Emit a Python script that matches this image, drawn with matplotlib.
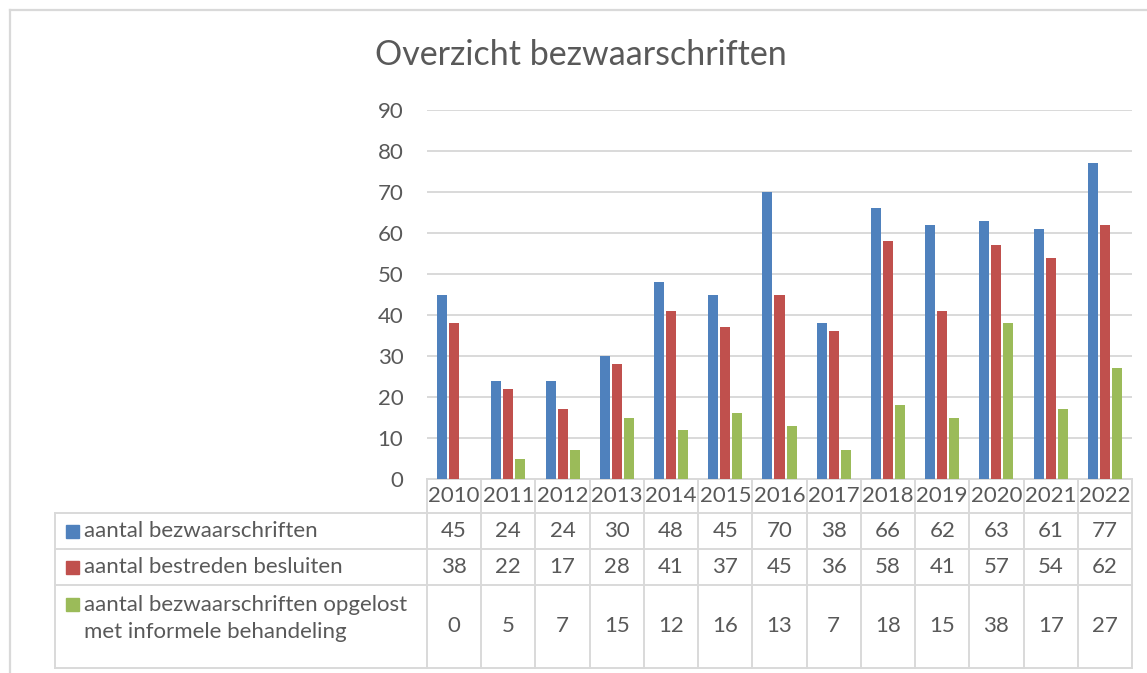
import matplotlib.pyplot as plt
import matplotlib.transforms as mtransforms
from matplotlib.patches import Rectangle
import numpy as np

plt.rcParams['font.family'] = ['Lato', 'DejaVu Sans']

years = ["2010", "2011", "2012", "2013", "2014", "2015", "2016",
         "2017", "2018", "2019", "2020", "2021", "2022"]
bezwaarschriften = [45, 24, 24, 30, 48, 45, 70, 38, 66, 62, 63, 61, 77]
bestreden = [38, 22, 17, 28, 41, 37, 45, 36, 58, 41, 57, 54, 62]
informeel = [0, 5, 7, 15, 12, 16, 13, 7, 18, 15, 38, 17, 27]
series_labels = ["aantal bezwaarschriften",
                 "aantal bestreden besluiten",
                 "aantal bezwaarschriften opgelost\nmet informele behandeling"]
colors = ["#4F81BD", "#C0504D", "#9BBB59"]
yticks = [0, 10, 20, 30, 40, 50, 60, 70, 80, 90]

W, H = 1147, 673
txt = "#595959"
grid = "#D9D9D9"
fs = 16

fig = plt.figure(figsize=(W / 100, H / 100), dpi=100)
fig.patch.set_facecolor("white")

# plot area in pixels: x 427..1132, y 110..479
ax = fig.add_axes([427 / W, 1 - 479 / H, (1132 - 427) / W, (479 - 110) / H])

x = np.arange(len(years))
bw = 0.185
step = 0.222
all_series = [bezwaarschriften, bestreden, informeel]
for i, vals in enumerate(all_series):
    ax.bar(x + (i - 1) * step, vals, width=bw, color=colors[i], zorder=3)

ax.set_xlim(-0.5, len(years) - 0.5)
ax.set_ylim(0, 90)
ax.set_yticks(yticks)
ax.set_yticklabels([str(t) for t in yticks], color=txt, fontsize=fs)
ax.tick_params(axis="y", length=0, pad=17)
ax.set_xticks([])
ax.grid(axis="y", color=grid, linewidth=1.4, zorder=0)
for s in ["top", "right", "left"]:
    ax.spines[s].set_visible(False)
ax.spines["bottom"].set_color(grid)
ax.spines["bottom"].set_linewidth(1.4)

fig.text(581 / W, 1 - 55 / H, "Overzicht bezwaarschriften", ha="center",
         va="center", fontsize=24.5, color=txt)

# data table below the plot
tr = mtransforms.blended_transform_factory(ax.transData, fig.transFigure)
def fy(py):
    return 1 - py / H

rows = [479, 513, 549, 585, 668]
for r in rows[1:]:
    fig.add_artist(plt.Line2D([55 / W, 1132 / W], [fy(r), fy(r)],
                              color=grid, linewidth=1.4))
fig.add_artist(plt.Line2D([55 / W, 55 / W], [fy(513), fy(668)],
                          color=grid, linewidth=1.4))
for b in np.arange(len(years) + 1) - 0.5:
    ax.add_artist(plt.Line2D([b, b], [fy(479), fy(668)], transform=tr,
                             color=grid, linewidth=1.4, clip_on=False))

for i, yr in enumerate(years):
    ax.text(i, fy(496), yr, transform=tr, ha="center", va="center",
            fontsize=fs, color=txt)

centers = [531, 567, 626.5]
for j, vals in enumerate(all_series):
    for i, v in enumerate(vals):
        ax.text(i, fy(centers[j]), str(v), transform=tr, ha="center",
                va="center", fontsize=fs, color=txt)

label_y = [531, 567, 618.5]
box_y = [531, 567, 604]
for j, lab in enumerate(series_labels):
    fig.add_artist(Rectangle((66 / W, fy(box_y[j] + 6.5)), 13 / W, 13 / H,
                             transform=fig.transFigure, color=colors[j]))
    fig.text(84 / W, fy(label_y[j]), lab, ha="left", va="center",
             fontsize=fs, color=txt, linespacing=1.42)

# outer chart border
fig.add_artist(plt.Line2D([10 / W, 1], [fy(10), fy(10)], color=grid, linewidth=1.6))
fig.add_artist(plt.Line2D([10 / W, 10 / W], [fy(10), 0], color=grid, linewidth=1.6))

fig.savefig("out.png", dpi=100)
